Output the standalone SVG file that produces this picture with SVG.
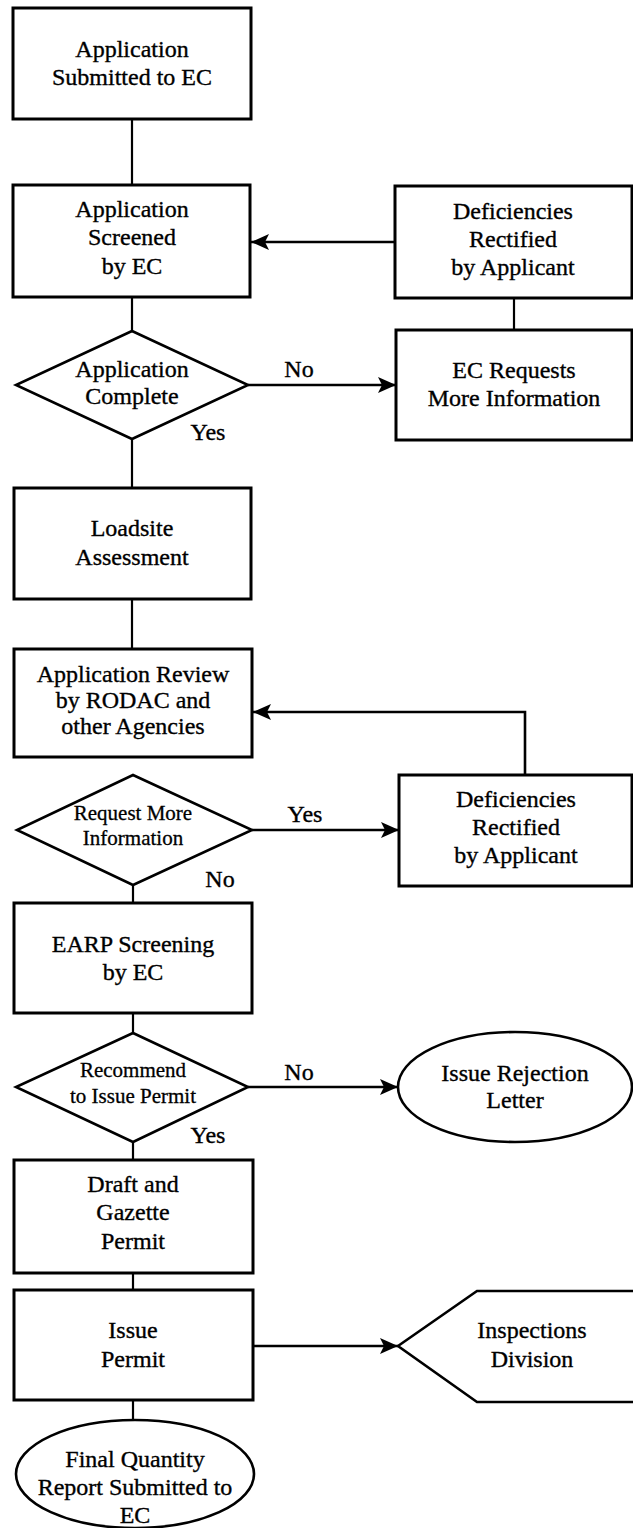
<svg xmlns="http://www.w3.org/2000/svg" width="633" height="1528" viewBox="0 0 633 1528">
<defs>
<marker id="arr" markerUnits="userSpaceOnUse" markerWidth="20" markerHeight="18" refX="18" refY="8" orient="auto">
<path d="M0,0 L18,8 L0,16 L4,8 z" fill="#000"/>
</marker>
<style>
.n{fill:#fff;stroke:#000;stroke-width:3}
.d{fill:#fff;stroke:#000;stroke-width:2.6}
.t{font-family:"Liberation Serif","Times New Roman",serif;font-size:24px;fill:#000;stroke:#000;stroke-width:0.35;text-anchor:middle}
.s{font-family:"Liberation Serif","Times New Roman",serif;font-size:21px;fill:#000;stroke:#000;stroke-width:0.3;text-anchor:middle}
.c{fill:none;stroke:#000;stroke-width:2.2}
.a{fill:none;stroke:#000;stroke-width:2.6;marker-end:url(#arr)}
</style>
</defs>
<rect width="633" height="1528" fill="#fff"/>
<g id="connectors">
<line class="c" x1="132" y1="119" x2="132" y2="185"/>
<line class="c" x1="132" y1="297" x2="132" y2="331"/>
<line class="a" x1="395" y1="242" x2="251" y2="242"/>
<line class="c" x1="514" y1="298" x2="514" y2="330"/>
<line class="a" x1="248" y1="385" x2="396" y2="385"/>
<text class="t" x="299" y="377">No</text>
<line class="c" x1="132" y1="439" x2="132" y2="488"/>
<text class="t" x="208" y="440">Yes</text>
<line class="c" x1="132" y1="599" x2="132" y2="649"/>
<polyline class="a" points="525,775 525,712 253,712"/>
<line class="a" x1="252" y1="830" x2="399" y2="830"/>
<text class="t" x="305" y="822">Yes</text>
<line class="c" x1="133" y1="885" x2="133" y2="903"/>
<text class="t" x="220" y="887">No</text>
<line class="c" x1="133" y1="1013" x2="133" y2="1033"/>
<line class="a" x1="248" y1="1087" x2="398" y2="1087"/>
<text class="t" x="299" y="1080">No</text>
<line class="c" x1="133" y1="1142" x2="133" y2="1160"/>
<text class="t" x="208" y="1143">Yes</text>
<line class="c" x1="133" y1="1273" x2="133" y2="1290"/>
<line class="a" x1="253" y1="1346" x2="398" y2="1346"/>
<line class="c" x1="133" y1="1400" x2="133" y2="1420"/>
</g>
<g id="submitted">
<rect class="n" x="13" y="8" width="238" height="111"/>
<text class="t" x="132" y="57">Application</text>
<text class="t" x="132" y="85">Submitted to EC</text>
</g>
<g id="screened">
<rect class="n" x="13" y="185" width="237" height="112"/>
<text class="t" x="132" y="217">Application</text>
<text class="t" x="132" y="245">Screened</text>
<text class="t" x="132" y="274">by EC</text>
</g>
<g id="deficiencies1">
<rect class="n" x="395" y="186" width="237" height="112"/>
<text class="t" x="513" y="219">Deficiencies</text>
<text class="t" x="513" y="247">Rectified</text>
<text class="t" x="513" y="275">by Applicant</text>
</g>
<g id="ecrequests">
<rect class="n" x="396" y="330" width="236" height="110"/>
<text class="t" x="514" y="378">EC Requests</text>
<text class="t" x="514" y="406">More Information</text>
</g>
<g id="complete">
<polygon class="d" points="132,331 248,385 132,439 16,385"/>
<text class="t" x="132" y="377">Application</text>
<text class="t" x="132" y="404">Complete</text>
</g>
<g id="loadsite">
<rect class="n" x="14" y="488" width="237" height="111"/>
<text class="t" x="132" y="536">Loadsite</text>
<text class="t" x="132" y="565">Assessment</text>
</g>
<g id="review">
<rect class="n" x="14" y="649" width="238" height="108"/>
<text class="t" x="133" y="682">Application Review</text>
<text class="t" x="133" y="708">by RODAC and</text>
<text class="t" x="133" y="734">other Agencies</text>
</g>
<g id="requestmore">
<polygon class="d" points="133,775 252,830 133,885 17,830"/>
<text class="s" x="133" y="820">Request More</text>
<text class="s" x="133" y="845">Information</text>
</g>
<g id="deficiencies2">
<rect class="n" x="399" y="775" width="233" height="111"/>
<text class="t" x="516" y="807">Deficiencies</text>
<text class="t" x="516" y="835">Rectified</text>
<text class="t" x="516" y="863">by Applicant</text>
</g>
<g id="earp">
<rect class="n" x="14" y="903" width="238" height="110"/>
<text class="t" x="133" y="952">EARP Screening</text>
<text class="t" x="133" y="980">by EC</text>
</g>
<g id="recommend">
<polygon class="d" points="133,1033 248,1087 133,1142 16,1087"/>
<text class="s" x="133" y="1077">Recommend</text>
<text class="s" x="133" y="1103">to Issue Permit</text>
</g>
<g id="rejection">
<ellipse class="d" cx="515" cy="1087" rx="117" ry="55"/>
<text class="t" x="515" y="1081">Issue Rejection</text>
<text class="t" x="515" y="1108">Letter</text>
</g>
<g id="draft">
<rect class="n" x="14" y="1160" width="239" height="113"/>
<text class="t" x="133" y="1192">Draft and</text>
<text class="t" x="133" y="1220">Gazette</text>
<text class="t" x="133" y="1249">Permit</text>
</g>
<g id="issue">
<rect class="n" x="14" y="1290" width="239" height="110"/>
<text class="t" x="133" y="1338">Issue</text>
<text class="t" x="133" y="1367">Permit</text>
</g>
<g id="inspections">
<polygon class="d" points="398,1346 477,1291 640,1291 640,1402 477,1402"/>
<text class="t" x="532" y="1338">Inspections</text>
<text class="t" x="532" y="1367">Division</text>
</g>
<g id="finalreport">
<ellipse class="d" cx="135" cy="1474" rx="119" ry="54"/>
<text class="t" x="135" y="1467">Final Quantity</text>
<text class="t" x="135" y="1495">Report Submitted to</text>
<text class="t" x="135" y="1523">EC</text>
</g>
</svg>
